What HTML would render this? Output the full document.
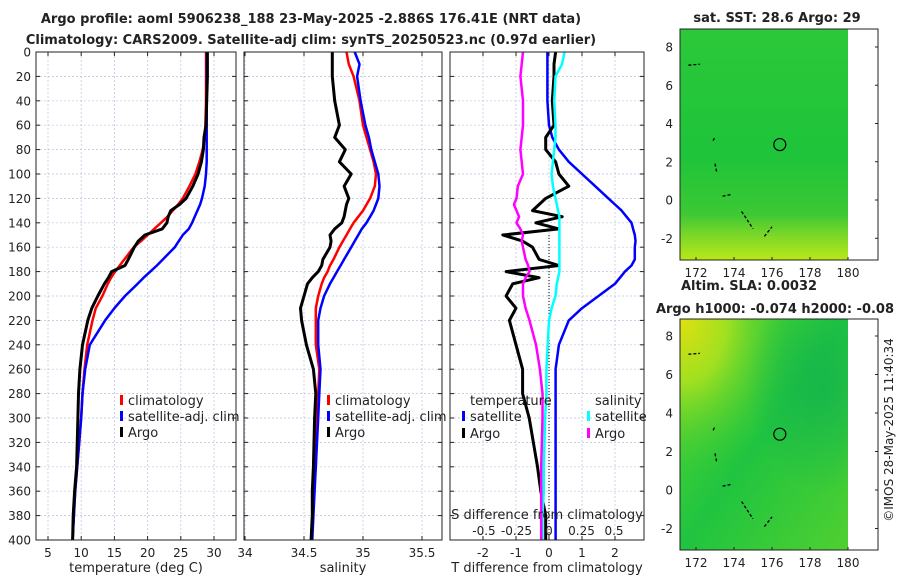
<!DOCTYPE html>
<html><head><meta charset="utf-8"><style>
body{margin:0;background:#fff;width:900px;height:580px;overflow:hidden}
svg text{font-family:"DejaVu Sans","Liberation Sans",sans-serif;fill:#222}
</style></head><body>
<svg id="fig" width="900" height="580" xmlns="http://www.w3.org/2000/svg">
<defs>
<linearGradient id="g1" x1="0" y1="0" x2="0" y2="1">
<stop offset="0" stop-color="#2cc83a"/><stop offset="0.55" stop-color="#1ec43a"/><stop offset="0.8" stop-color="#3cc834"/><stop offset="0.9" stop-color="#80d828"/><stop offset="1" stop-color="#b8e818"/></linearGradient>
<radialGradient id="g2y" cx="0" cy="0" r="0.7"><stop offset="0" stop-color="#e0e010"/><stop offset="0.4" stop-color="#a0e020"/><stop offset="1" stop-color="#30c838" stop-opacity="0"/></radialGradient>
<radialGradient id="g2d" cx="0.85" cy="0.3" r="0.45"><stop offset="0" stop-color="#10b050" stop-opacity="0.7"/><stop offset="1" stop-color="#10b050" stop-opacity="0"/></radialGradient>
<linearGradient id="g2" x1="0" y1="0" x2="1" y2="1"><stop offset="0" stop-color="#60d82c"/><stop offset="0.5" stop-color="#20c440"/><stop offset="1" stop-color="#50d030"/></linearGradient>
</defs>
<text x="311" y="23" font-size="13" font-weight="bold" text-anchor="middle">Argo profile: aoml 5906238_188 23-May-2025 -2.886S 176.41E (NRT data)</text>
<text x="311" y="44" font-size="13" font-weight="bold" text-anchor="middle">Climatology: CARS2009. Satellite-adj clim: synTS_20250523.nc (0.97d earlier)</text>
<g id="p1"></g>
<g id="p2"></g>
<g id="p3"></g>
<g id="m1"></g>
<g id="m2"></g>
<text transform="translate(893,430) rotate(-90)" font-size="12" text-anchor="middle">©IMOS 28-May-2025 11:40:34</text>
</svg>
<script>
const depths=[0,10,20,40,60,70,80,90,100,110,120,125,130,135,140,145,150,155,160,170,175,180,185,190,200,210,220,240,260,280,300,340,360,380,400];
const tClim=[28.8,28.8,28.8,28.8,28.7,28.6,28.3,27.8,27.2,26.3,25.3,24.6,23.8,23,22,21,20,19,17.9,16.5,15.8,15.1,14.5,14,13.2,12.2,11.7,10.9,10.5,10.2,10,9.4,9.1,8.9,8.7];
const tSat=[28.9,28.9,28.9,28.9,28.9,28.9,28.9,28.9,28.8,28.6,28.2,27.9,27.5,27.1,26.7,26.2,25.3,24.7,24.1,22.3,21.4,20.4,19.4,18.5,16.6,15,13.6,11.3,10.6,10.2,10,9.4,9.1,8.9,8.7];
const tArgo=[29,29,29,28.9,28.8,28.5,28.4,28.1,27.6,26.8,25.8,24.8,23.5,23.1,22.9,22.2,19.6,18.6,18,17.1,16.6,14.6,14.1,13.5,12.5,11.6,11,10.2,9.8,9.6,9.5,9.3,9,8.8,8.7];
const sClim=[34.86,34.88,34.92,34.97,35.0,35.03,35.06,35.09,35.11,35.1,35.06,35.03,35.0,34.96,34.92,34.89,34.86,34.83,34.8,34.75,34.72,34.7,34.67,34.65,34.62,34.6,34.6,34.6,34.63,34.62,34.61,34.6,34.58,34.57,34.56];
const sSat=[34.93,34.97,34.95,34.98,35.02,35.05,35.07,35.1,35.13,35.14,35.13,35.11,35.09,35.06,35.03,34.99,34.96,34.93,34.9,34.84,34.81,34.78,34.75,34.72,34.67,34.64,34.62,34.62,34.64,34.63,34.62,34.6,34.59,34.58,34.57];
const sArgo=[34.74,34.74,34.74,34.76,34.8,34.76,34.85,34.8,34.9,34.84,34.88,34.86,34.85,34.84,34.82,34.76,34.72,34.73,34.72,34.66,34.65,34.62,34.57,34.53,34.5,34.47,34.48,34.52,34.58,34.6,34.59,34.58,34.57,34.57,34.56];
const dTSat=[-0.05,-0.05,-0.05,-0.05,0,0.1,0.3,0.6,1.0,1.4,1.8,2.0,2.2,2.35,2.5,2.55,2.6,2.62,2.6,2.6,2.5,2.3,2.15,2.0,1.5,1.0,0.6,0.3,0.2,0.2,0.2,0.2,0.2,0.2,0.2];
const dTArgo=[0.2,0.15,0.15,0.1,0.15,-0.1,-0.1,0.2,0.3,0.6,-0.1,-0.3,-0.5,0.4,-0.4,0.3,-1.4,-0.8,-0.5,-0.3,0.3,-1.3,-0.3,-1.1,-1.3,-1.0,-1.2,-1.0,-0.8,-0.8,-0.6,-0.35,-0.25,-0.1,-0.1];
const dSSat=[0.12,0.1,0.05,0.04,0.05,0.05,0.04,0.03,0.02,0.03,0.05,0.06,0.07,0.08,0.08,0.08,0.08,0.08,0.08,0.08,0.08,0.08,0.07,0.06,0.05,0.02,0,-0.01,-0.02,-0.02,-0.03,-0.04,-0.04,-0.05,-0.05];
const dSArgo=[-0.2,-0.21,-0.22,-0.2,-0.2,-0.21,-0.22,-0.21,-0.2,-0.24,-0.25,-0.27,-0.25,-0.23,-0.25,-0.22,-0.2,-0.21,-0.2,-0.18,-0.16,-0.15,-0.18,-0.2,-0.2,-0.18,-0.15,-0.1,-0.07,-0.05,-0.05,-0.06,-0.06,-0.06,-0.06];
const depthTicks=[0,20,40,60,80,100,120,140,160,180,200,220,240,260,280,300,320,340,360,380,400];
const tTicks=[5,10,15,20,25,30];
const sTicks=[34,34.5,35,35.5];
const dTTicks=[-2,-1,0,1,2];
const dSTicks=[-0.5,-0.25,0,0.25,0.5];
const dSLabels=["-0.5","-0.25","0","0.25","0.5"];
const lonTicks=[172,174,176,178,180];
const latTicks=[-2,0,2,4,6,8];
const argoLon=[176.41], argoLat=[2.9];

const NS='http://www.w3.org/2000/svg';
function el(g,tag,attrs){const e=document.createElementNS(NS,tag);for(const k in attrs)e.setAttribute(k,attrs[k]);g.appendChild(e);return e;}
const Y0=52,Y1=540;
const yD=d=>Y0+(d/400)*(Y1-Y0);
function panel(g,x0,x1,xs,ticks,labels,xlabel){
  el(g,'rect',{x:x0,y:Y0,width:x1-x0,height:Y1-Y0,fill:'#fff'});
  depthTicks.forEach(d=>{const l=el(g,'line',{x1:x0,x2:x1,y1:yD(d),y2:yD(d),stroke:'#b8c0e0','stroke-width':0.7,'stroke-dasharray':'2,2'});});
  ticks.forEach((t,i)=>{const x=xs(t);
    const l=el(g,'line',{x1:x,x2:x,y1:Y0,y2:Y1,stroke:'#b8c0e0','stroke-width':0.7,'stroke-dasharray':'2,2'});
    if(labels){const tx=el(g,'text',{x:x,y:Y1+17,'font-size':12,'text-anchor':'middle'});tx.textContent=labels[i];}
    el(g,'line',{x1:x,x2:x,y1:Y1,y2:Y1-4,stroke:'#222'});el(g,'line',{x1:x,x2:x,y1:Y0,y2:Y0+4,stroke:'#222'});});
  depthTicks.forEach(d=>{el(g,'line',{x1:x0,x2:x0+4,y1:yD(d),y2:yD(d),stroke:'#222'});el(g,'line',{x1:x1,x2:x1-4,y1:yD(d),y2:yD(d),stroke:'#222'});});
  if(xlabel){const t=el(g,'text',{x:(x0+x1)/2,y:572,'font-size':13,'text-anchor':'middle'});t.textContent=xlabel;}
}
function frame(g,x0,x1){el(g,'rect',{x:x0,y:Y0,width:x1-x0,height:Y1-Y0,fill:'none',stroke:'#222','stroke-width':1});}
function line(g,xs,vals,color,w,name){const p=vals.map((v,i)=>(i?'L':'M')+xs(v).toFixed(1)+','+yD(depths[i]).toFixed(1)).join('');const e=el(g,'path',{d:p,fill:'none',stroke:color,'stroke-width':w,'stroke-linejoin':'round'});}
function legend(g,x,y,color,label,name){const r=el(g,'rect',{x:x,y:y-10,width:3,height:10,fill:color});const t=el(g,'text',{x:x+8,y:y,'font-size':13});t.textContent=label;}

const p1=document.getElementById('p1');const xT=t=>48+(t-5)*6.64;
panel(p1,36,236,xT,tTicks,tTicks.map(String),'temperature (deg C)');
depthTicks.forEach(d=>{const t=el(p1,'text',{x:31,y:yD(d)+4.5,'font-size':12,'text-anchor':'end'});t.textContent=d;});
line(p1,xT,tClim,'#f00',2.5,'temp-climatology-line');line(p1,xT,tSat,'#00f',2.5,'temp-satellite-line');line(p1,xT,tArgo,'#000',3,'temp-argo-line');
legend(p1,120,405,'#f00','climatology','legend-climatology');legend(p1,120,421,'#00f','satellite-adj. clim','legend-satellite');legend(p1,120,437,'#000','Argo','legend-argo');
frame(p1,36,236);
const p2=document.getElementById('p2');const xS=s=>245+(s-34)*118;
panel(p2,244,442,xS,sTicks,['34','34.5','35','35.5'],'salinity');
line(p2,xS,sClim,'#f00',2.5,'sal-climatology-line');line(p2,xS,sSat,'#00f',2.5,'sal-satellite-line');line(p2,xS,sArgo,'#000',3,'sal-argo-line');
legend(p2,327,405,'#f00','climatology','legend-climatology');legend(p2,327,421,'#00f','satellite-adj. clim','legend-satellite');legend(p2,327,437,'#000','Argo','legend-argo');
frame(p2,244,442);
const p3=document.getElementById('p3');const xDT=v=>549+v*33;const xDS=v=>549+v*130;
panel(p3,450,644,xDT,dTTicks,dTTicks.map(String),'T difference from climatology');
el(p3,'line',{x1:549,x2:549,y1:yD(150),y2:Y1,stroke:'#000','stroke-dasharray':'1,2'});
line(p3,xDT,dTSat,'#00f',2.5,'tdiff-satellite-line');line(p3,xDT,dTArgo,'#000',3,'tdiff-argo-line');
line(p3,xDS,dSSat,'#0ff',2.5,'sdiff-satellite-line');line(p3,xDS,dSArgo,'#f0f',2.5,'sdiff-argo-line');
[['temperature',470,405],['salinity',595,405]].forEach(a=>{const t=el(p3,'text',{x:a[1],y:a[2],'font-size':13});t.textContent=a[0];});
legend(p3,462,421,'#00f','satellite','legend-t-satellite');legend(p3,462,438,'#000','Argo','legend-t-argo');
legend(p3,587,421,'#0ff','satellite','legend-s-satellite');legend(p3,587,438,'#f0f','Argo','legend-s-argo');
const st=el(p3,'text',{x:547,y:519,'font-size':13,'text-anchor':'middle'});st.textContent='S difference from climatology';
dSTicks.forEach((v,i)=>{const t=el(p3,'text',{x:xDS(v),y:535,'font-size':12,'text-anchor':'middle'});t.textContent=dSLabels[i];});
frame(p3,450,644);
function map(g,y0,y1,lat8y,lat0y,title,fillId,extra){
  const xL=lo=>696+(lo-172)*19;const yL=la=>lat0y+(lat8y-lat0y)*la/8;
  el(g,'rect',{x:680,y:y0,width:198,height:y1-y0,fill:'#fff'});
  el(g,'rect',{x:680,y:y0,width:xL(180)-680,height:y1-y0,fill:'url(#'+fillId+')'});
  if(extra)extra(g,xL,yL);
  [[171.6,7.05,172.2,7.1],[172.9,3.1,173.0,3.3],[173,1.9,173.1,1.4],[173.4,0.2,173.9,0.3],[174.4,-0.6,175,-1.5],[175.6,-1.9,176,-1.4]].forEach(c=>el(g,'line',{x1:xL(c[0]),y1:yL(c[1]),x2:xL(c[2]),y2:yL(c[3]),stroke:'#000','stroke-width':1.3,'stroke-dasharray':'3,2'}));
  const c=el(g,'circle',{cx:xL(argoLon[0]),cy:yL(argoLat[0]),r:6,fill:'none',stroke:'#000','stroke-width':1.2});
  el(g,'rect',{x:680,y:y0,width:198,height:y1-y0,fill:'none',stroke:'#222'});
  lonTicks.forEach(lo=>{const t=el(g,'text',{x:xL(lo),y:y1+17,'font-size':12,'text-anchor':'middle'});t.textContent=lo;el(g,'line',{x1:xL(lo),x2:xL(lo),y1:y1,y2:y1-3,stroke:'#222'});});
  latTicks.forEach(la=>{const t=el(g,'text',{x:673,y:yL(la)+4.5,'font-size':12,'text-anchor':'end'});t.textContent=la;el(g,'line',{x1:875,x2:878,y1:yL(la),y2:yL(la),stroke:'#222'});});
  title.forEach(s=>{const t=el(g,'text',{x:s[1],y:s[2],'font-size':13,'font-weight':'bold','text-anchor':s[3]||'middle'});t.textContent=s[0];});
}
map(document.getElementById('m1'),29,260,47,200,[['sat. SST: 28.6 Argo: 29',777,22]],'g1');
map(document.getElementById('m2'),319,550,336,490,[['Altim. SLA: 0.0032',681,290,'start'],['Argo h1000: -0.074 h2000: -0.08',775,313]],'g2',(g,xL,yL)=>{
  el(g,'rect',{x:680,y:319,width:xL(180)-680,height:231,fill:'url(#g2y)'});
  el(g,'rect',{x:680,y:319,width:xL(180)-680,height:231,fill:'url(#g2d)'});
});
</script>
</body></html>
